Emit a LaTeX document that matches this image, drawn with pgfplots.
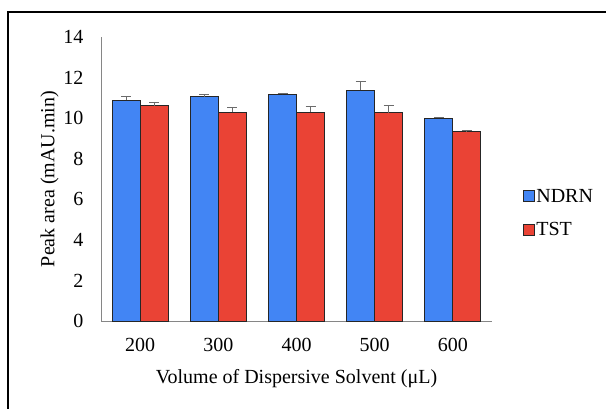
\documentclass[border=0pt]{standalone}
\usepackage{fontspec}
\setmainfont{Liberation Serif}
\usepackage{pgfplots}
\pgfplotsset{compat=1.18}
\definecolor{ndrn}{HTML}{4285F4}
\definecolor{tst}{HTML}{EA4335}
\definecolor{axgray}{HTML}{868686}
\begin{document}
\begin{tikzpicture}
\useasboundingbox (0,0) rectangle (606bp,-409bp);
\draw[line width=2bp, black] (8bp,-409bp) -- (8bp,-12bp) -- (606bp,-12bp);
\begin{axis}[
  at={(101bp,-321bp)}, anchor=south west,
  scale only axis, width=391bp, height=284bp,
  xmin=-0.5, xmax=4.5, ymin=0, ymax=14,
  ytick={0,2,...,14},
  xtick={0,1,2,3,4}, xticklabels={200,300,400,500,600},
  axis x line*=bottom, axis y line*=left,
  axis line style={axgray, line width=1bp, -},
  major tick length=0pt,
  tick label style={font=\fontsize{20bp}{24bp}\selectfont, black},
  /pgf/number format/assume math mode=true,
  yticklabel style={xshift=-14bp},
  xticklabel style={yshift=-14bp},
  xlabel={Volume of Dispersive Solvent (μL)},
  ylabel={Peak area (mAU.min)},
  label style={font=\fontsize{20bp}{24bp}\selectfont},
  xlabel style={yshift=-11bp},
  ylabel style={yshift=-2bp},
  ybar, bar width=28bp,
  legend style={at={(1.07,0.38)}, anchor=west, draw=none, fill=none,
    font=\fontsize{20bp}{24bp}\selectfont, row sep=15bp,
    /tikz/every even column/.append style={column sep=2bp}},
  legend cell align=left,
  legend image code/.code={\draw[#1, line width=0.8bp] (0bp,-5.5bp) rectangle (11bp,5.5bp);},
]
\addplot[fill=ndrn, draw=black!85, line width=1bp, bar shift=-14bp,
  error bars/.cd, y dir=plus, y explicit,
  error bar style={axgray!80!black, line width=1bp},
  error mark options={rotate=90, mark size=5bp, axgray!80!black, line width=1bp}]
  coordinates {(0,10.89) +- (0,0.20) (1,11.06) +- (0,0.13) (2,11.17) +- (0,0.05) (3,11.38) +- (0,0.45) (4,10.00) +- (0,0.04)};
\addplot[fill=tst, draw=black!85, line width=1bp, bar shift=14bp,
  error bars/.cd, y dir=plus, y explicit,
  error bar style={axgray!80!black, line width=1bp},
  error mark options={rotate=90, mark size=5bp, axgray!80!black, line width=1bp}]
  coordinates {(0,10.61) +- (0,0.18) (1,10.30) +- (0,0.21) (2,10.30) +- (0,0.26) (3,10.27) +- (0,0.34) (4,9.33) +- (0,0.05)};
\legend{NDRN,TST}
\end{axis}
\end{tikzpicture}
\end{document}
